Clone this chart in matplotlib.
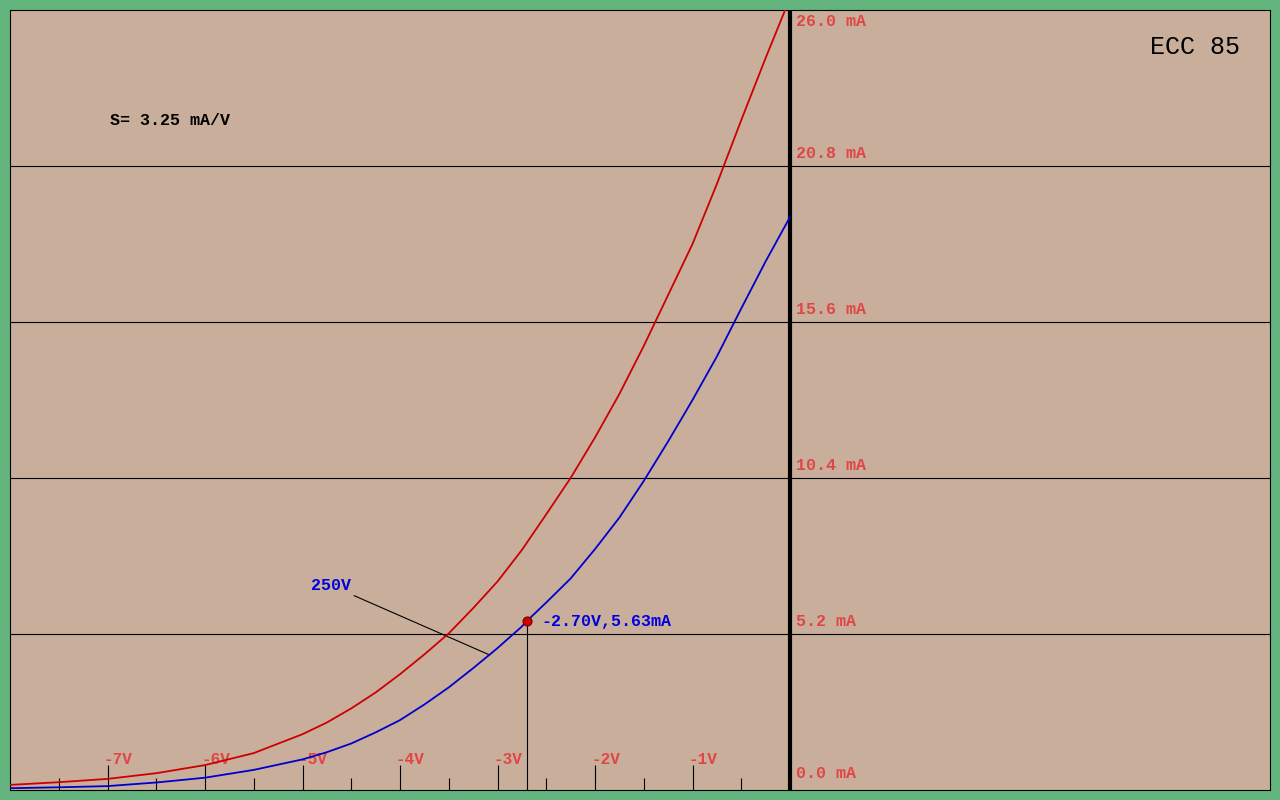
import numpy as np
import matplotlib
matplotlib.use("Agg")
import matplotlib.pyplot as plt

# grid voltage (V) vs anode current (mA)
red_v = [-8.0, -7.5, -7.0, -6.5, -6.0, -5.5, -5.0, -4.75, -4.5, -4.25, -4.0,
         -3.75, -3.5, -3.25, -3.0, -2.75, -2.5, -2.25, -2.0, -1.75, -1.5,
         -1.25, -1.0, -0.75, -0.5, -0.25, -0.05]
red_ma = [0.17, 0.26, 0.37, 0.56, 0.83, 1.23, 1.86, 2.25, 2.72, 3.25, 3.86,
          4.52, 5.22, 6.06, 6.95, 8.0, 9.19, 10.4, 11.75, 13.2, 14.8,
          16.5, 18.2, 20.2, 22.33, 24.4, 26.0]

blue_v = [-8.0, -7.5, -7.0, -6.5, -6.0, -5.5, -5.0, -4.75, -4.5, -4.25, -4.0,
          -3.75, -3.5, -3.25, -3.0, -2.75, -2.7, -2.5, -2.25, -2.0, -1.75, -1.5,
          -1.25, -1.0, -0.75, -0.5, -0.25, 0.0]
blue_ma = [0.06, 0.09, 0.13, 0.25, 0.41, 0.67, 1.02, 1.26, 1.55, 1.92, 2.33,
           2.85, 3.42, 4.06, 4.73, 5.45, 5.63, 6.25, 7.05, 8.03, 9.08, 10.3,
           11.62, 13.0, 14.45, 16.05, 17.62, 19.1]

op_v, op_ma = -2.70, 5.63
op_label = "-2.70V,5.63mA"
curve_label = "250V"
slope_text = "S= 3.25 mA/V"
tube_name = "ECC 85"

x_ticks = [-7, -6, -5, -4, -3, -2, -1]
x_minor = [-7.5, -6.5, -5.5, -4.5, -3.5, -2.5, -1.5, -0.5]
y_levels = [0.0, 5.2, 10.4, 15.6, 20.8, 26.0]

BG = "#c8ae9b"
GREEN = "#64b47e"
LABEL_RED = "#e04646"
mono = "Liberation Mono"

fig = plt.figure(figsize=(12.8, 8), dpi=100, facecolor=GREEN)
ax = fig.add_axes([10 / 1280, 10 / 800, 1260 / 1280, 780 / 800])
ax.set_facecolor(BG)
ax.set_xlim(-8, 1260 / 97.5 - 8)
ax.set_ylim(0, 26)
for s in ax.spines.values():
    s.set_linewidth(0.8)
    s.set_color("black")

# horizontal grid
for v in y_levels[1:-1]:
    ax.axhline(v, color="black", lw=0.8, zorder=1)

# thick zero line
ax.axvline(0, color="black", lw=3, zorder=3)

# ticks on the bottom, pointing in
ax.set_xticks(x_ticks)
ax.set_xticks(x_minor, minor=True)
ax.tick_params(axis="x", which="major", direction="in", length=18, width=0.8,
               labelbottom=False)
ax.tick_params(axis="x", which="minor", direction="in", length=8.5, width=0.8)
ax.set_yticks([])

for v in x_ticks:
    ax.annotate("%dV" % v, xy=(v, 0), xytext=(-4, 30), textcoords="offset pixels",
                ha="left", va="center", color=LABEL_RED, fontsize=11.5,
                fontfamily=mono, fontweight="bold")

for v in y_levels:
    dy = -11 if v == y_levels[-1] else (17 if v == 0 else 13)
    ax.annotate("%.1f mA" % v, xy=(0, v), xytext=(6, dy), textcoords="offset pixels",
                ha="left", va="center", color=LABEL_RED, fontsize=12,
                fontfamily=mono, fontweight="bold", annotation_clip=False)

# curves
ax.plot(red_v, red_ma, color="#cc0000", lw=1.3, zorder=4)
ax.plot(blue_v, blue_ma, color="#0000cc", lw=1.3, zorder=4)

# operating point
ax.plot([op_v, op_v], [0, op_ma], color="black", lw=0.8, zorder=2)
ax.plot(op_v, op_ma, "o", ms=6.5, mfc="#d00000", mec="#700000", mew=0.8, zorder=5)
ax.annotate(op_label, xy=(op_v, op_ma), xytext=(15, 0), textcoords="offset pixels",
            ha="left", va="center", color="#0000dd", fontsize=12,
            fontfamily=mono, fontweight="bold")

# curve label with leader line
ax.annotate(curve_label, xy=(-3.08, 4.5), xytext=(-4.91, 6.8),
            ha="left", va="center", color="#0000dd", fontsize=12,
            fontfamily=mono, fontweight="bold",
            arrowprops=dict(arrowstyle="-", color="black", lw=0.8,
                            relpos=(0.82, 0.15), shrinkA=0, shrinkB=0))

ax.text(-6.97, 22.33, slope_text, ha="left", va="center", color="black",
        fontsize=12, fontfamily=mono, fontweight="bold")
ax.text(0.976, 0.952, tube_name, transform=ax.transAxes, ha="right", va="center",
        color="black", fontsize=18, fontfamily=mono)

fig.savefig("out.png", dpi=100, facecolor=GREEN)
